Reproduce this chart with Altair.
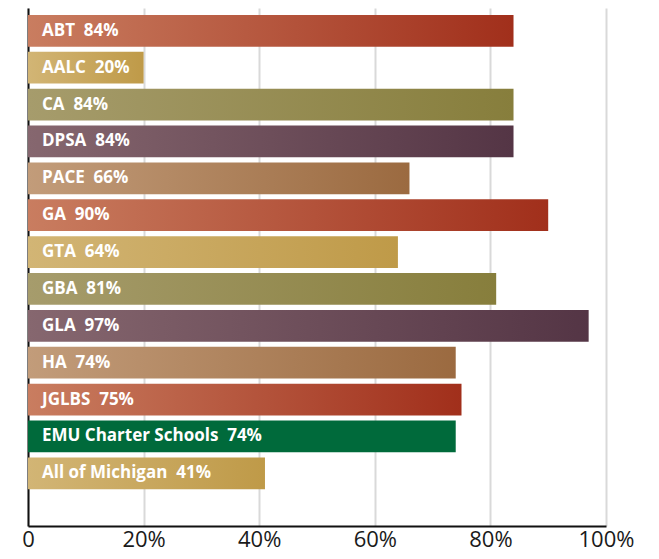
import altair as alt
import pandas as pd

schools = ["ABT", "AALC", "CA", "DPSA", "PACE", "GA", "GTA", "GBA", "GLA", "HA",
           "JGLBS", "EMU Charter Schools", "All of Michigan"]
values = [84, 20, 84, 84, 66, 90, 64, 81, 97, 74, 75, 74, 41]
families = ["red", "gold", "olive", "purple", "brown", "red", "gold", "olive", "purple",
            "brown", "red", "green", "gold"]

palette = {
    "red": ("#c97d60", "#a12f1b"),
    "gold": ("#d2b575", "#bf9a48"),
    "olive": ("#a69c6c", "#877e3c"),
    "purple": ("#86676f", "#543545"),
    "brown": ("#c29c7a", "#9b6a40"),
    "green": ("#006a3b", "#006a3b"),
}

df = pd.DataFrame({"school": schools, "value": values, "family": families})
df["label"] = df["school"] + "\u00a0\u00a0" + df["value"].astype(str) + "%"

domain = schools + ["_blank"]

x = alt.X("value:Q", scale=alt.Scale(domain=[0, 100], nice=False),
          axis=alt.Axis(values=[0, 20, 40, 60, 80, 100], labelExpr="datum.value == 0 ? '0' : datum.value + '%'",
                        title=None, ticks=False, grid=True, gridColor="#d9d9d9", gridWidth=2,
                        domainColor="#111111", domainWidth=2, labelFontSize=22,
                        labelFont="Open Sans", labelColor="#1a1a1a", labelPadding=3, labelFlush=False))
y = alt.Y("school:N", scale=alt.Scale(domain=domain, paddingInner=0.14, paddingOuter=0.095, align=1),
          axis=alt.Axis(labels=False, ticks=False, title=None, grid=False,
                        domainColor="#111111", domainWidth=2))

layers = []
for fam, (c1, c2) in palette.items():
    grad = alt.Gradient(gradient="linear", x1=0, x2=1, y1=0, y2=0,
                        stops=[alt.GradientStop(color=c1, offset=0), alt.GradientStop(color=c2, offset=1)])
    layers.append(
        alt.Chart(df).transform_filter(alt.datum.family == fam)
        .mark_bar(color=grad, cornerRadius=0).encode(x=x, y=y)
    )

text = alt.Chart(df).mark_text(align="left", baseline="middle", dx=14, color="white",
                               font="Open Sans", fontWeight="bold", fontSize=17).encode(
    x=alt.X("zero:Q", scale=alt.Scale(domain=[0, 100], nice=False)),
    y=y,
    text="label:N",
).transform_calculate(zero="0")

chart = alt.layer(*layers, text).properties(
    width=578, height=518,
    padding={"left": 13, "top": 0, "right": 5, "bottom": 7},
).configure_view(stroke=None)

chart.save("out.html", embed_options={"renderer": "svg", "actions": False})
